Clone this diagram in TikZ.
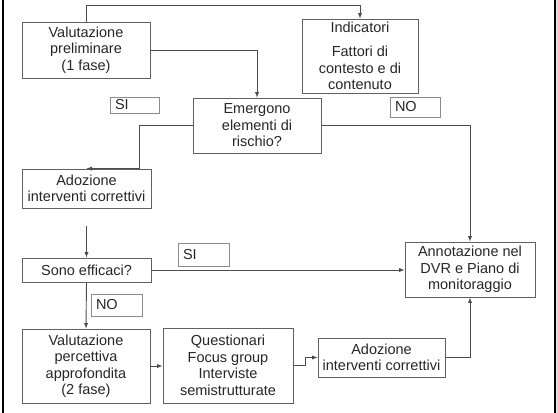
\documentclass[tikz,border=0pt]{standalone}
\usepackage{fontspec}
\setmainfont{Liberation Sans}
\usepackage{xcolor}
\usetikzlibrary{arrows,positioning,calc}

\begin{document}
\begin{tikzpicture}[
    x=1pt, y=-1pt,
    >=latex,
    step box/.style={
        rectangle, draw=black!62, line width=0.9pt,
        align=center, inner sep=1pt,
        font=\fontsize{14.5}{16.5}\selectfont, text=black!85
    },
    answer/.style={
        rectangle, draw=black!45, line width=0.9pt,
        text width=#1, align=left, inner xsep=5pt, inner ysep=1pt,
        font=\fontsize{14.5}{16.5}\selectfont, text=black!85
    },
    flow/.style={
        ->, line width=0.9pt, draw=black!70
    }
]
\useasboundingbox (0,0) rectangle (558,413);

% page frame
\draw[line width=1.2pt] (3,0) -- (3,413);
\draw[line width=1.2pt] (555,0) -- (555,413);
\fill[black!12] (556,0) rectangle (558,413);

% Boxes
\node[step box, minimum width=128, minimum height=56] (valprel) at (86,50)
    {Valutazione\\preliminare\\(1 fase)};
\node[step box, minimum width=116, minimum height=74] (indic) at (360,56)
    {Indicatori\\[8pt]Fattori di\\contesto e di\\contenuto};
\node[step box, minimum width=128, minimum height=55] (emerg) at (257,125.5)
    {Emergono\\elementi di\\rischio?};
\node[step box, minimum width=129, minimum height=39] (adoz) at (86.5,188.5)
    {Adozione\\interventi correttivi};
\node[step box, minimum width=129, minimum height=24] (efficaci) at (86.5,270)
    {Sono efficaci?};
\node[step box, minimum width=130, minimum height=55] (annot) at (470,269.5)
    {Annotazione nel\\DVR e Piano di\\monitoraggio};
\node[step box, minimum width=128, minimum height=74] (valperc) at (86,366)
    {Valutazione\\percettiva\\approfondita\\(2 fase)};
\node[step box, minimum width=130, minimum height=75] (quest) at (228,365.5)
    {Questionari\\Focus group\\Interviste\\semistrutturate};
\node[step box, minimum width=127, minimum height=39] (adozb) at (381.5,357.5)
    {Adozione\\interventi correttivi};

% Answer labels
\node[answer=39pt, minimum height=16] (si_a) at (134.5,105) {SI};
\node[answer=40pt, minimum height=20] (no_a) at (415,107) {NO};
\node[answer=41pt, minimum height=23] (si_b) at (203.5,254.5) {SI};
\node[answer=41pt, minimum height=22] (no_b) at (116.5,305) {NO};

% Connectors
\coordinate (top) at (0,5);
\coordinate (leftturn) at (139,0);
\draw[flow] (valprel.north) -- (valprel.north |- top) -| (indic.north);
\draw[flow] (valprel.east) -| (emerg.north);
\draw[flow] (emerg.west) -| (leftturn |- adoz.north) -- (adoz.north);
\draw[flow] ([yshift=-18pt]adoz.south) -- (efficaci.north);
\draw[flow] (efficaci.east) -- (efficaci.east -| annot.west);
\draw[flow] (emerg.east) -| (annot.north);
\draw[flow] (efficaci.south) -- (valperc.north);
\draw[flow] (valperc.east) -- (valperc.east -| quest.west);
\draw[flow] (quest.east) -- ++(12,0) |- (adozb.west);
\draw[flow] (adozb.east) -| (annot.south);

\end{tikzpicture}
\end{document}
